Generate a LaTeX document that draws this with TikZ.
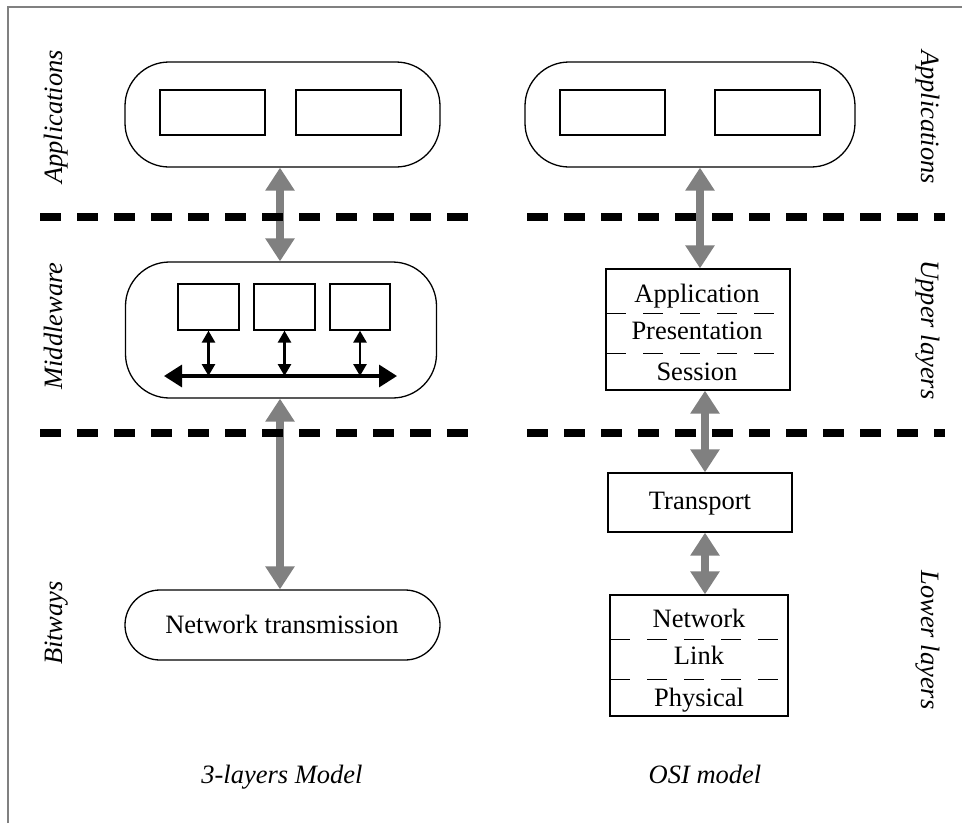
\documentclass[tikz,border=0pt]{standalone}
\usepackage{fontspec}
\setmainfont{Liberation Serif}
\usetikzlibrary{arrows.meta}
\begin{document}
\begin{tikzpicture}[x=1pt,y=-1pt,
  every node/.style={font=\fontsize{26.5}{30}\selectfont, inner sep=0pt},
  frame/.style={draw=gray, line width=1.7pt},
  roundbox/.style={draw, line width=1.3pt, rounded corners=44pt},
  plainbox/.style={draw, line width=1.3pt},
  innerbox/.style={draw, line width=1.3pt},
  layerdiv/.style={line width=8pt, dash pattern=on 21pt off 16pt},
  subdiv/.style={line width=1pt, dash pattern=on 20pt off 17pt},
  grayarrow/.style={draw=gray, line width=8pt,
    arrows={Triangle[width=28pt,length=23pt]-Triangle[width=28pt,length=23pt]}},
  smallarrow/.style={draw, line width=2.7pt,
    arrows={Triangle[width=13pt,length=12pt]-Triangle[width=13pt,length=12pt]}},
  busarrow/.style={draw, line width=3.3pt,
    arrows={Triangle[width=22pt,length=18pt]-Triangle[width=22pt,length=18pt]}},
  sidelabel/.style={font=\fontsize{26.5}{30}\selectfont\itshape, anchor=base},
  caption/.style={font=\fontsize{26.5}{30}\selectfont\itshape, anchor=base},
  layertext/.style={anchor=base}]
\useasboundingbox (0,0) rectangle (962,823);
\fill[white] (0,0) rectangle (962,823);

% outer frame (left and top edges)
\draw[frame] (8,823) -- (8,7) -- (962,7);

% ---------- 3-layers model ----------
\node[roundbox, minimum width=315pt, minimum height=105pt] (lapp) at (282.5,114.5) {};
\node[innerbox, minimum width=105pt, minimum height=45pt] (la1) at (212.5,112.5) {};
\node[innerbox, minimum width=105pt, minimum height=45pt] (la2) at (348.5,112.5) {};

\node[roundbox, minimum width=311pt, minimum height=136pt] (mid) at (281,330) {};
\node[innerbox, minimum width=61pt, minimum height=46pt] (m1) at (208.5,307) {};
\node[innerbox, minimum width=61pt, minimum height=46pt] (m2) at (284.5,307) {};
\node[innerbox, minimum width=60pt, minimum height=46pt] (m3) at (360,307) {};
\coordinate (busL) at (164,376);
\coordinate (busR) at (397,376);
\draw[busarrow] (busL) -- (busR);
\draw[smallarrow] (m1.south) -- (m1.south |- busL);
\draw[smallarrow] (m2.south) -- (m2.south |- busL);
\draw[smallarrow] (m3.south) -- (m3.south |- busL);

\node[roundbox, rounded corners=35pt, minimum width=315pt, minimum height=70pt] (net) at (282.5,625) {};
\node[layertext] (nettxt) at (282,633) {Network transmission};

\coordinate (lx) at (280,0);
\draw[grayarrow] (lx |- lapp.south) -- (lx |- mid.north);
\draw[grayarrow] (lx |- mid.south) -- (lx |- net.north);

% ---------- OSI model ----------
\node[roundbox, minimum width=330pt, minimum height=105pt] (rapp) at (690,114.5) {};
\node[innerbox, minimum width=105pt, minimum height=45pt] (ra1) at (612.5,112.5) {};
\node[innerbox, minimum width=105pt, minimum height=45pt] (ra2) at (767.5,112.5) {};

\node[plainbox, minimum width=184pt, minimum height=121pt] (upper) at (698,329.5) {};
\draw[subdiv] (606,313) -- (790,313);
\draw[subdiv] (606,353) -- (790,353);
\node[layertext] (appl) at (697,302) {Application};
\node[layertext] (pres) at (697,339) {Presentation};
\node[layertext] (sess) at (697,380) {Session};

\node[plainbox, minimum width=184pt, minimum height=59pt] (trans) at (700,502.5) {};
\node[layertext] (transtxt) at (700,509) {Transport};

\node[plainbox, minimum width=178pt, minimum height=121pt] (lower) at (699,655.5) {};
\draw[subdiv] (610,639) -- (788,639);
\draw[subdiv] (610,679) -- (788,679);
\node[layertext] (netw) at (699,627) {Network};
\node[layertext] (link) at (699,664) {Link};
\node[layertext] (phys) at (699,706) {Physical};

\coordinate (rx) at (700,0);
\coordinate (rx2) at (705,0);
\draw[grayarrow] (rx |- rapp.south) -- (rx |- upper.north);
\draw[grayarrow] (rx2 |- upper.south) -- (rx2 |- trans.north);
\draw[grayarrow] (rx2 |- trans.south) -- (rx2 |- lower.north);

% ---------- layer boundaries ----------
\draw[layerdiv] (40,217) -- (470,217);
\draw[layerdiv] (527,217) -- (945,217);
\draw[layerdiv] (40,433) -- (470,433);
\draw[layerdiv] (527,433) -- (945,433);

% ---------- side labels ----------
\node[sidelabel, rotate=90] (lA) at (62,117) {Applications};
\node[sidelabel, rotate=90] (lM) at (62,326) {Middleware};
\node[sidelabel, rotate=90] (lB) at (62,623) {Bitways};
\node[sidelabel, rotate=-90] (rA) at (921,117) {Applications};
\node[sidelabel, rotate=-90] (rU) at (921,330) {Upper layers};
\node[sidelabel, rotate=-90] (rL) at (921,640) {Lower layers};

% ---------- captions ----------
\node[caption] (cap1) at (282,783) {3-layers Model};
\node[caption] (cap2) at (705,783) {OSI model};
\end{tikzpicture}
\end{document}
